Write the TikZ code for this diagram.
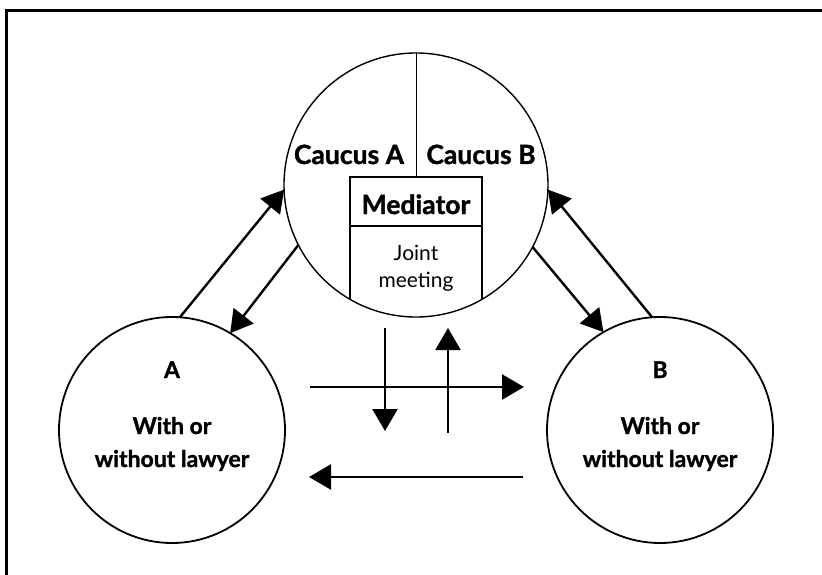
\documentclass[tikz,border=0pt]{standalone}
\usepackage{fontspec}
\setmainfont{Lato}[BoldFeatures={FakeBold=1.3}]
\usetikzlibrary{arrows.meta}
\begin{document}
\begin{tikzpicture}[x=1pt,y=-1pt,
  party/.style={circle, draw, line width=1.8pt, minimum size=226pt, inner sep=0pt, outer sep=0pt},
  conn/.style={line width=2.4pt, -{Triangle[length=22pt,width=25pt]}},
  big/.style={font=\bfseries\fontsize{26.5}{31}\selectfont, inner sep=0pt, anchor=base},
  mid/.style={font=\bfseries\fontsize{23}{28}\selectfont, inner sep=0pt, anchor=base},
  small/.style={font=\fontsize{21}{25}\selectfont, inner sep=0pt, anchor=base},
  thinline/.style={line width=1.3pt}
]
\useasboundingbox (0,0) rectangle (822,575);
\draw[line width=3pt] (6,600) -- (6,11) -- (840,11);

% nodes
\node[party, line width=1.4pt, minimum size=264pt] (M) at (416,185) {};
\node[party] (A) at (172,430) {};
\node[party] (B) at (660,430) {};

% inside of the mediator circle
\coordinate (divtop) at (416,177);
\coordinate (boxtl) at (350,177);
\coordinate (boxtr) at (482,177);
\coordinate (boxml) at (350,226);
\coordinate (boxmr) at (482,226);
\coordinate (boxbl) at (350,299.3);
\coordinate (boxbr) at (482,299.3);
\draw[line width=1pt] (M.north) -- (divtop);
\draw[thinline] (boxbl) -- (boxtl) -- (boxtr) -- (boxbr);
\draw[thinline] (boxml) -- (boxmr);

\node[big] (ca) at (349,164) {Caucus A};
\node[big] (cb) at (481,164) {Caucus B};
\node[big] (med) at (416,214) {Mediator};
\node[small] (j1) at (416,260) {Joint};
\node[small] (j2) at (416,287) {meeting};

\node[mid] (at) at (172,378) {A};
\node[mid] (a1) at (172,434) {With or};
\node[mid] (a2) at (172,467) {without lawyer};
\node[mid] (bt) at (660,378) {B};
\node[mid] (b1) at (660,434) {With or};
\node[mid] (b2) at (660,467) {without lawyer};

% connectors between circles
\draw[conn] (A.86) -- (M.182);
\draw[conn] (M.207.5) -- (A.59.4);
\draw[conn] (M.332.3) -- (B.120.2);
\draw[conn] (B.94) -- (M.358);

% middle arrows
\coordinate (d1) at (385,328);
\coordinate (d2) at (385,431);
\coordinate (u1) at (448,433);
\coordinate (u2) at (448,328);
\coordinate (r1) at (310,387);
\coordinate (r2) at (524,387);
\coordinate (l1) at (523,477);
\coordinate (l2) at (309,477);
\draw[conn] (d1) -- (d2);
\draw[conn] (u1) -- (u2);
\draw[conn] (r1) -- (r2);
\draw[conn] (l1) -- (l2);
\end{tikzpicture}
\end{document}
